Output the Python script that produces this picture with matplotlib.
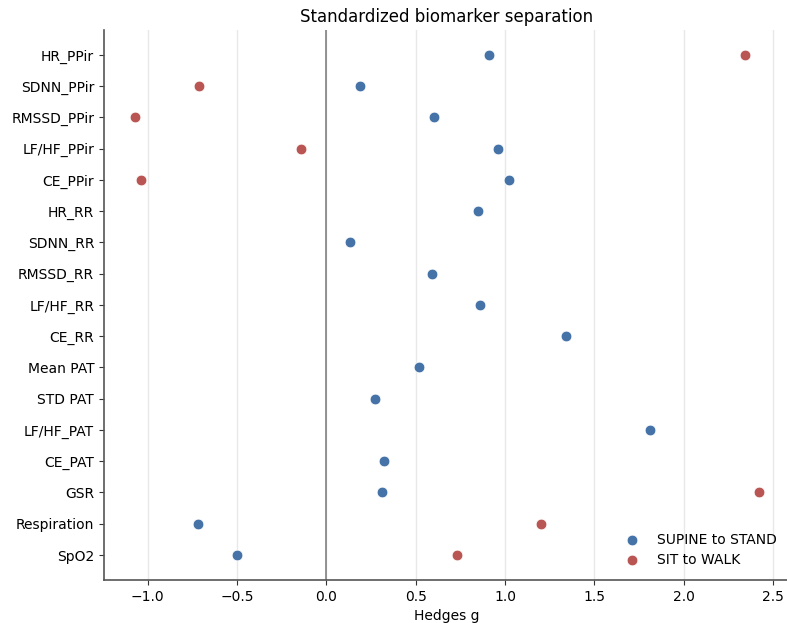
import numpy as np
import matplotlib
matplotlib.use("Agg")
import matplotlib.pyplot as plt

markers = ["HR_PPir", "SDNN_PPir", "RMSSD_PPir", "LF/HF_PPir", "CE_PPir",
           "HR_RR", "SDNN_RR", "RMSSD_RR", "LF/HF_RR", "CE_RR",
           "Mean PAT", "STD PAT", "LF/HF_PAT", "CE_PAT", "GSR",
           "Respiration", "SpO2"]
# Hedges g, supine -> stand (all markers)
g_stand = [0.91, 0.19, 0.60, 0.96, 1.02,
           0.85, 0.13, 0.59, 0.86, 1.34,
           0.52, 0.27, 1.81, 0.32, 0.31,
           -0.72, -0.50]
# Hedges g, sit -> walk (NaN where not available)
g_walk = [2.34, -0.71, -1.07, -0.14, -1.04,
          np.nan, np.nan, np.nan, np.nan, np.nan,
          np.nan, np.nan, np.nan, np.nan, 2.42,
          1.20, 0.73]

BLUE = "#4572a7"
RED = "#b95654"

fig = plt.figure(figsize=(7.87, 6.23), dpi=100)
ax = fig.add_axes([0.132, 0.069, 0.872, 0.883])

y = np.arange(len(markers))
ax.axvline(0, color="#777777", lw=1.1, zorder=1)
ax.scatter(g_stand, y, s=60, color=BLUE, edgecolor="white", linewidth=0.6,
           zorder=3, label="SUPINE to STAND")
ax.scatter(g_walk, y, s=60, color=RED, edgecolor="white", linewidth=0.6,
           zorder=3, label="SIT to WALK")

ax.set_yticks(y)
ax.set_yticklabels(markers, fontsize=10)
ax.set_ylim(16.8, -0.8)
ax.set_xlim(-1.245, 2.595)
ax.set_xticks([-1.0, -0.5, 0.0, 0.5, 1.0, 1.5, 2.0, 2.5])
ax.tick_params(axis="x", labelsize=10)
ax.grid(axis="x", color="#e8e8e8", lw=1, zorder=0)
ax.set_axisbelow(True)
for s in ["top", "right"]:
    ax.spines[s].set_visible(False)
for s in ["left", "bottom"]:
    ax.spines[s].set_color("#555555")
    ax.spines[s].set_linewidth(1.2)
ax.tick_params(colors="#333333", labelcolor="black")

ax.set_xlabel("Hedges g", fontsize=10)
ax.set_title("Standardized biomarker separation", fontsize=12)
ax.legend(loc="lower right", frameon=False, fontsize=10,
          bbox_to_anchor=(1.0, 0.0), borderaxespad=0.55, labelspacing=0.45)

fig.savefig("out.png", dpi=100)
